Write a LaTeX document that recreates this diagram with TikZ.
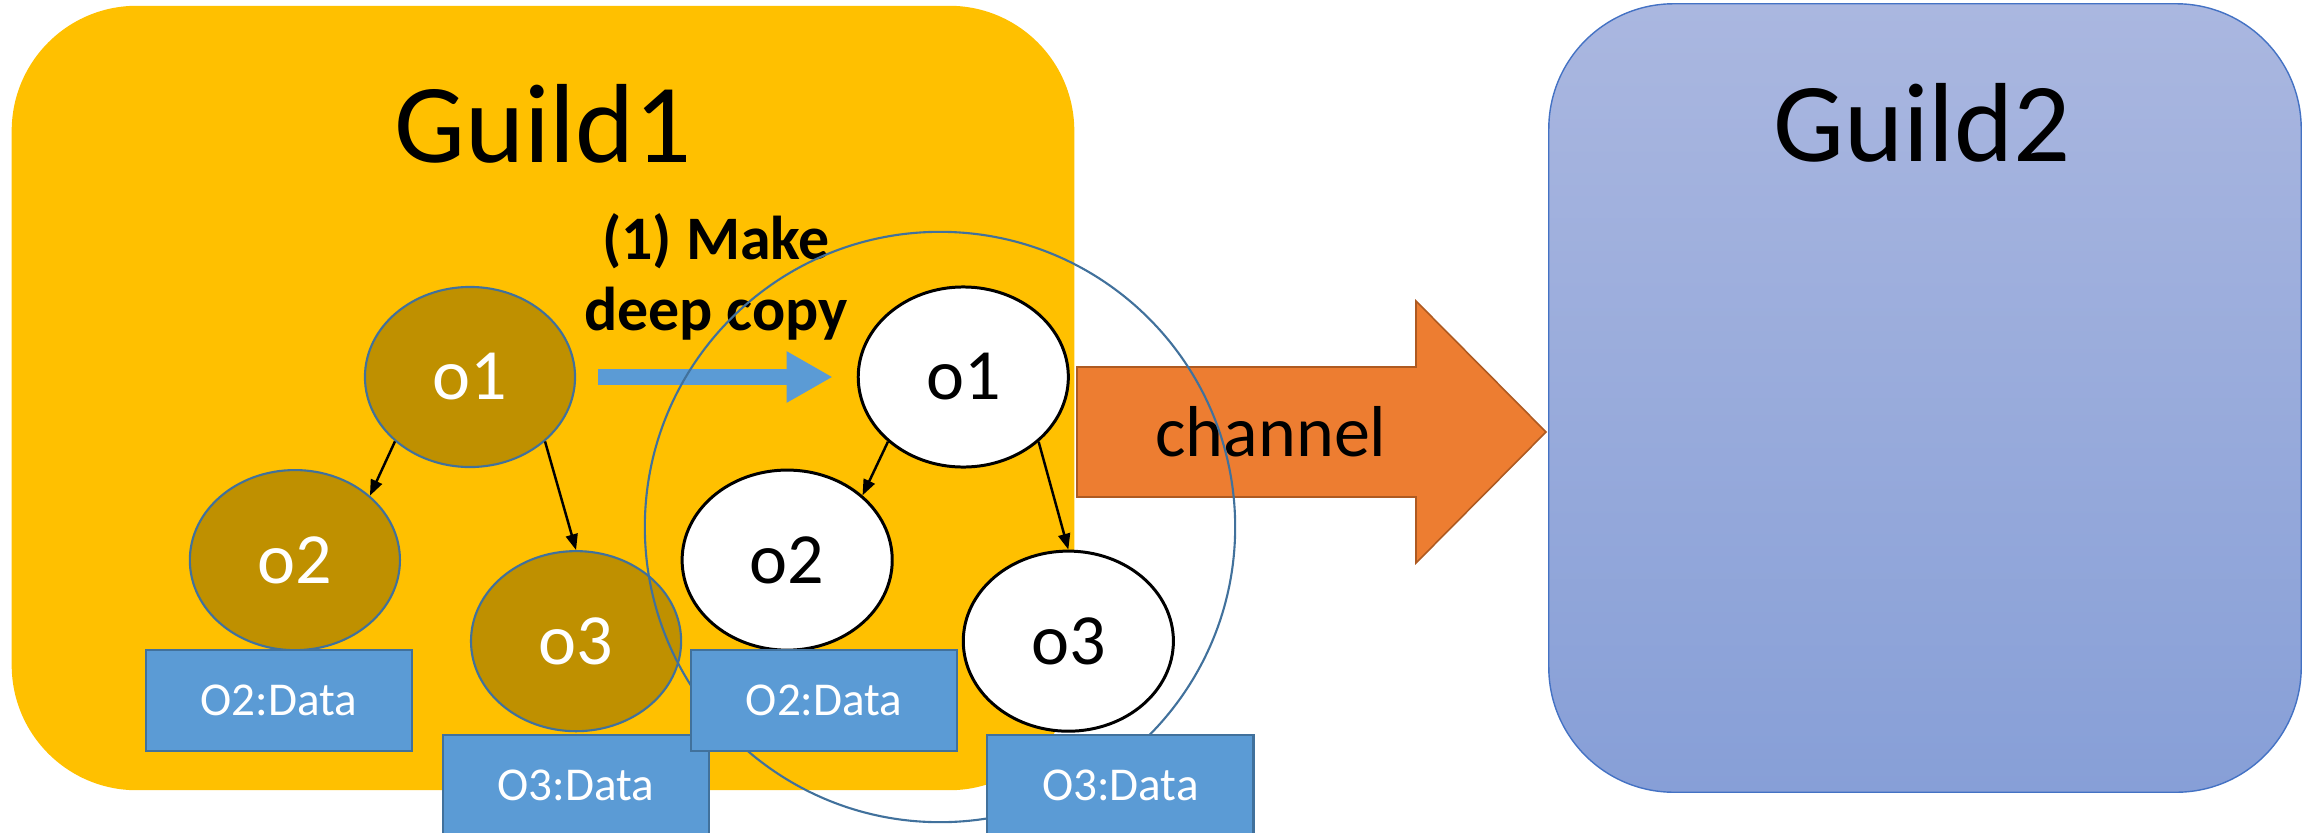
\documentclass[tikz,border=0pt]{standalone}
\usepackage{fontspec}
\setmainfont{Carlito}
\usetikzlibrary{shapes.geometric,arrows.meta,positioning}

\definecolor{guildyellow}{HTML}{FFC000}
\definecolor{guildtop}{RGB}{170,183,224}
\definecolor{guildbot}{RGB}{135,159,215}
\definecolor{guildedge}{HTML}{4472C4}
\definecolor{objbrown}{HTML}{BF9000}
\definecolor{datablue}{HTML}{5B9BD5}
\definecolor{dataedge}{HTML}{41719C}
\definecolor{chanorange}{HTML}{ED7D31}
\definecolor{chanedge}{HTML}{AE5A21}

\tikzset{
  guildbox/.style={rectangle, rounded corners=1.25cm, inner sep=0pt},
  guildtext/.style={anchor=base, font=\fontsize{32}{38}\selectfont},
  obj/.style={ellipse, minimum width=2.1cm, minimum height=1.8cm, inner sep=0pt,
    font=\fontsize{20.5}{24}\selectfont},
  oldobj/.style={obj, fill=objbrown, draw=dataedge, line width=0.6pt, text=white},
  newobj/.style={obj, fill=white, draw=black, line width=0.85pt},
  databox/.style={rectangle, minimum width=2.66cm, minimum height=1.01cm, inner sep=0pt,
    fill=datablue, draw=dataedge, line width=0.6pt, text=white,
    font=\fontsize{13.4}{15}\selectfont},
  ref/.style={->, line width=0.7pt},
  >={Triangle[length=4.5pt,width=3.4pt]}
}

\begin{document}
\begin{tikzpicture}[x=0.01cm, y=-0.01cm, node distance=1cm, on grid]
  \useasboundingbox (0,0) rectangle (2311,833);

  % the two guilds
  \node (guild1) [guildbox, fill=guildyellow, minimum width=10.62cm, minimum height=7.84cm] at (543,398) {};
  \node (guild2) [guildbox, top color=guildtop, bottom color=guildbot, draw=guildedge, line width=0.4pt,
    minimum width=7.52cm, minimum height=7.88cm] at (1925,398) {};
  \node (g1name) [guildtext] at (543,162) {Guild1};
  \node (g2name) [guildtext] at (1922,161) {Guild2};

  % original objects
  \node (l1) [oldobj] at (470,377) {o1};
  \node (l2) [oldobj, below left=1.83cm and 1.75cm of l1] {o2};
  \node (l3) [oldobj, below right=2.64cm and 1.06cm of l1] {o3};
  \draw[ref] (l1.south west) -- (l2.north east);
  \draw[ref] (l1.south east) -- (l3.north);
  \node (ld2) [databox, below left=1.40cm and 0.16cm of l2] {O2:Data};
  \node (ld3) [databox, below=1.44cm of l3] {O3:Data};

  % deep copy
  \node (copytext) [align=center, font=\bfseries\fontsize{17.6}{20}\selectfont] at (716,277) {(1) Make\\deep copy};
  \node (r1) [newobj, right=4.93cm of l1] {o1};
  \draw[datablue, line width=0.16cm, -{Triangle[length=0.46cm,width=0.48cm]}]
    ([xshift=0.22cm]l1.east) -- ([xshift=-0.24cm]r1.west);
  \node (r2) [newobj, below left=1.83cm and 1.76cm of r1] {o2};
  \node (r3) [newobj, below right=2.64cm and 1.05cm of r1] {o3};
  \draw[ref] (r1.south west) -- (r2.north east);
  \draw[ref] (r1.south east) -- (r3.north);

  % channel
  \filldraw[fill=chanorange, draw=chanedge, line width=0.45pt]
    (1077,367) -- (1416,367) -- (1416,301) -- (1546,432) -- (1416,563) -- (1416,497) -- (1077,497) -- cycle;
  \node (channel) [font=\fontsize{20.5}{24}\selectfont] at (1271,432) {channel};

  % copied graph
  \draw[dataedge, line width=0.6pt] (940,527) circle [radius=2.95cm];
  \node (rd2) [databox, below right=1.40cm and 0.37cm of r2] {O2:Data};
  \node (rd3) [databox, below right=1.44cm and 0.52cm of r3] {O3:Data};
\end{tikzpicture}
\end{document}
